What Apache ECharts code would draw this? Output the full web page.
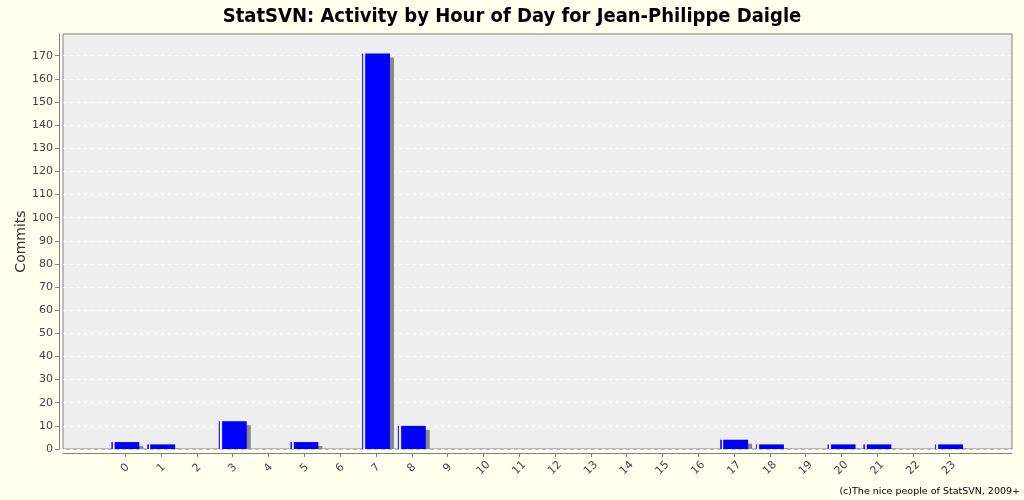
<!DOCTYPE html>
<html><head><meta charset="utf-8">
<script src="https://cdn.jsdelivr.net/npm/echarts@6/dist/echarts.min.js"></script>
<style>html,body{margin:0;padding:0;background:#ffffee}#c{width:1024px;height:500px}</style>
</head><body><div id="c"></div>
<script>
const titleText = 'StatSVN: Activity by Hour of Day for Jean-Philippe Daigle';
const yAxisTitle = 'Commits';
const footerText = '(c)The nice people of StatSVN, 2009+';
const hours = [0,1,2,3,4,5,6,7,8,9,10,11,12,13,14,15,16,17,18,19,20,21,22,23];
const hourLabels = ['0','1','2','3','4','5','6','7','8','9','10','11','12','13','14','15','16','17','18','19','20','21','22','23'];
const commits = [3,2,0,12,0,3,0,171,10,0,0,0,0,0,0,0,0,4,2,0,2,2,0,2];
const yTickValues = [0,10,20,30,40,50,60,70,80,90,100,110,120,130,140,150,160,170];

const chart = echarts.init(document.getElementById('c'), null, {renderer: 'canvas'});
const barFill = {
  type: 'linear', x: 0, y: 0, x2: 1, y2: 0,
  colorStops: [
    {offset: 0, color: '#2a2aff'}, {offset: 0.05, color: '#2a2aff'},
    {offset: 0.055, color: '#f2f2ff'}, {offset: 0.11, color: '#e6e6ff'},
    {offset: 0.12, color: '#3030ff'}, {offset: 0.15, color: '#0000ff'},
    {offset: 1, color: '#0000ff'}
  ]
};
const font = 'DejaVu Sans';
chart.setOption({
  backgroundColor: '#ffffee',
  animation: false,
  title: {
    text: titleText, left: 'center', top: 2,
    textStyle: {fontFamily: 'DejaVu Sans Condensed', fontWeight: 'bold', fontSize: 20, color: '#000'}
  },
  grid: {left: 63, right: 12, top: 34, bottom: 51, show: true, backgroundColor: '#eeeeee', borderColor: '#808080', borderWidth: 1},
  xAxis: {
    type: 'value', min: -1.74, max: 24.76, offset: 4,
    axisLine: {show: true, onZero: false, lineStyle: {color: '#808080'}},
    axisTick: {show: true, length: 4, customValues: hours, lineStyle: {color: '#808080'}},
    axisLabel: {
      customValues: hours, rotate: 45, align: 'center', verticalAlign: 'middle', margin: 15,
      formatter: v => hourLabels[hours.indexOf(v)],
      fontFamily: font, fontSize: 11, color: '#444'
    },
    splitLine: {show: false}
  },
  yAxis: {
    type: 'value', min: 0, max: 179.4, interval: 10, offset: 4,
    name: yAxisTitle, nameLocation: 'middle', nameGap: 31, nameMoveOverlap: false,
    nameTextStyle: {fontFamily: font, fontSize: 14, color: '#333'},
    axisLine: {show: true, onZero: false, lineStyle: {color: '#808080'}},
    axisTick: {show: true, length: 4, customValues: yTickValues, lineStyle: {color: '#808080'}},
    axisLabel: {customValues: yTickValues, margin: 6, fontFamily: font, fontSize: 11, color: '#444'},
    splitLine: {show: true, lineStyle: {color: '#fbfbfb', type: [3, 4], width: 1}}
  },
  graphic: [{
    type: 'text', right: 4, bottom: 3,
    style: {text: footerText, fontFamily: font, fontSize: 9.5, fill: '#000'}
  }],
  series: [{
    type: 'custom',
    data: hours.map((h, i) => [h, commits[i]]),
    clip: true,
    renderItem: function (params, api) {
      const x = api.value(0), v = api.value(1);
      if (!v) return null;
      const top = api.coord([x, v]);
      const base = api.coord([x, 0]);
      const w = api.size([1, 0])[0] * 0.782;
      const left = top[0] - w / 2;
      const h = base[1] - top[1];
      return {
        type: 'group',
        children: [
          {type: 'rect', shape: {x: left + 4, y: top[1] + 4, width: w, height: Math.max(h - 4, 0)}, style: {fill: '#888888'}},
          {type: 'rect', shape: {x: left, y: top[1], width: w, height: h}, style: {fill: barFill}}
        ]
      };
    }
  }]
});
</script></body></html>
